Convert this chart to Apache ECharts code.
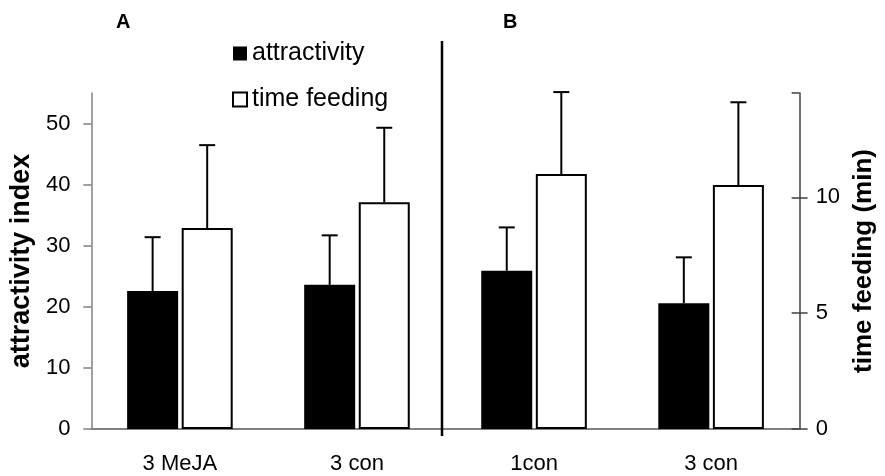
<!DOCTYPE html>
<html>
<head>
<meta charset="utf-8">
<script src="https://cdn.jsdelivr.net/npm/echarts@6/dist/echarts.min.js"></script>
<style>
  html, body { margin: 0; padding: 0; background: #fff; }
  #chart { width: 885px; height: 476px; }
</style>
</head>
<body>
<div id="chart"></div>
<script>
// Groups: A = 3 MeJA vs 3 con, B = 1con vs 3 con
const categories = ['3 MeJA', '3 con', '1con', '3 con'];
// attractivity index (left axis), mean and error
const attractivity = [22.6, 23.6, 25.9, 20.6];
const attractivityErr = [8.8, 8.1, 7.1, 7.5];
// time feeding in minutes (right axis), mean and error
const timeFeeding = [8.67, 9.78, 11.0, 10.53];
const timeFeedingErr = [3.58, 3.22, 3.54, 3.57];
// axis tick settings
const leftMax = 55, leftStep = 10;
const rightMax = 14.5, rightStep = 5;

const FONT = 'Liberation Sans, Arial, sans-serif';
const BAR_W = 51;
const BAR_GAP = 0.07;
const HALF_SHIFT = (BAR_W + BAR_W * BAR_GAP) / 2;

function errorSeries(means, errs, yIdx, shift) {
  return {
    type: 'custom',
    yAxisIndex: yIdx,
    z: 5,
    silent: true,
    data: means.map((m, i) => [i, m, m + errs[i]]),
    renderItem: function (params, api) {
      const base = api.coord([api.value(0), api.value(1)]);
      const top = api.coord([api.value(0), api.value(2)]);
      const x = base[0] + shift;
      const style = { stroke: '#000', lineWidth: 2 };
      return {
        type: 'group',
        children: [
          { type: 'line', shape: { x1: x, y1: base[1], x2: x, y2: top[1] }, style: style },
          { type: 'line', shape: { x1: x - 8, y1: top[1], x2: x + 8, y2: top[1] }, style: style }
        ]
      };
    }
  };
}

const chart = echarts.init(document.getElementById('chart'), null, { renderer: 'canvas' });
chart.setOption({
  backgroundColor: '#fff',
  animation: false,
  textStyle: { fontFamily: FONT, color: '#000' },
  grid: { left: 91, right: 82, top: 93, bottom: 47, containLabel: false },
  legend: {
    orient: 'vertical',
    left: 227,
    top: 36,
    itemWidth: 14,
    itemHeight: 14,
    itemGap: 21,
    icon: 'rect',
    textStyle: { fontFamily: FONT, fontSize: 25, color: '#000' },
    data: ['attractivity', 'time feeding']
  },
  xAxis: {
    type: 'category',
    data: categories,
    axisLine: { lineStyle: { color: '#808080', width: 2 } },
    axisTick: { show: false },
    axisLabel: { fontFamily: FONT, fontSize: 22, color: '#000', margin: 24 }
  },
  yAxis: [
    {
      type: 'value', min: 0, max: leftMax, interval: leftStep,
      name: 'attractivity index', nameLocation: 'middle', nameRotate: 90, nameGap: 45,
      nameTextStyle: { fontFamily: FONT, fontSize: 27, fontWeight: 'bold', color: '#000' },
      axisLine: { show: true, lineStyle: { color: '#808080', width: 1.5 } },
      axisTick: { show: true, length: 8, lineStyle: { color: '#808080', width: 1.5 } },
      axisLabel: { fontFamily: FONT, fontSize: 22, color: '#000', margin: 21, showMaxLabel: false },
      splitLine: { show: false }
    },
    {
      type: 'value', position: 'right', min: 0, max: rightMax, interval: rightStep,
      name: 'time feeding (min)', nameLocation: 'middle', nameRotate: 90, nameGap: 45,
      nameTextStyle: { fontFamily: FONT, fontSize: 26, fontWeight: 'bold', color: '#000' },
      axisLine: { show: true, lineStyle: { color: '#404040', width: 1.5 } },
      axisTick: { show: true, length: 8, lineStyle: { color: '#404040', width: 1.5 } },
      axisLabel: { fontFamily: FONT, fontSize: 22, color: '#000', margin: 16, showMaxLabel: false },
      splitLine: { show: false }
    },
    {
      // inner half of the crossing ticks on the right axis
      type: 'value', position: 'right', min: 0, max: rightMax, interval: rightStep,
      axisLine: { show: false },
      axisTick: { show: true, inside: true, length: 8, lineStyle: { color: '#404040', width: 1.5 } },
      axisLabel: { show: false },
      splitLine: { show: false }
    }
  ],
  series: [
    {
      name: 'attractivity', type: 'bar', yAxisIndex: 0,
      barWidth: BAR_W, barGap: (BAR_GAP * 100) + '%',
      itemStyle: { color: '#000' },
      data: attractivity
    },
    {
      name: 'time feeding', type: 'bar', yAxisIndex: 1,
      barWidth: BAR_W, barGap: (BAR_GAP * 100) + '%',
      itemStyle: { color: '#fff', borderColor: '#000', borderWidth: 2 },
      data: timeFeeding
    },
    errorSeries(attractivity, attractivityErr, 0, -HALF_SHIFT),
    errorSeries(timeFeeding, timeFeedingErr, 1, HALF_SHIFT)
  ],
  graphic: [
    { type: 'text', left: 116, top: 12, style: { text: 'A', font: 'bold 20px ' + FONT, fill: '#000' } },
    { type: 'text', left: 503, top: 12, style: { text: 'B', font: 'bold 20px ' + FONT, fill: '#000' } },
    { type: 'line', z: 10, shape: { x1: 442, y1: 41, x2: 442, y2: 436 }, style: { stroke: '#000', lineWidth: 2.5 } }
  ]
});
</script>
</body>
</html>
